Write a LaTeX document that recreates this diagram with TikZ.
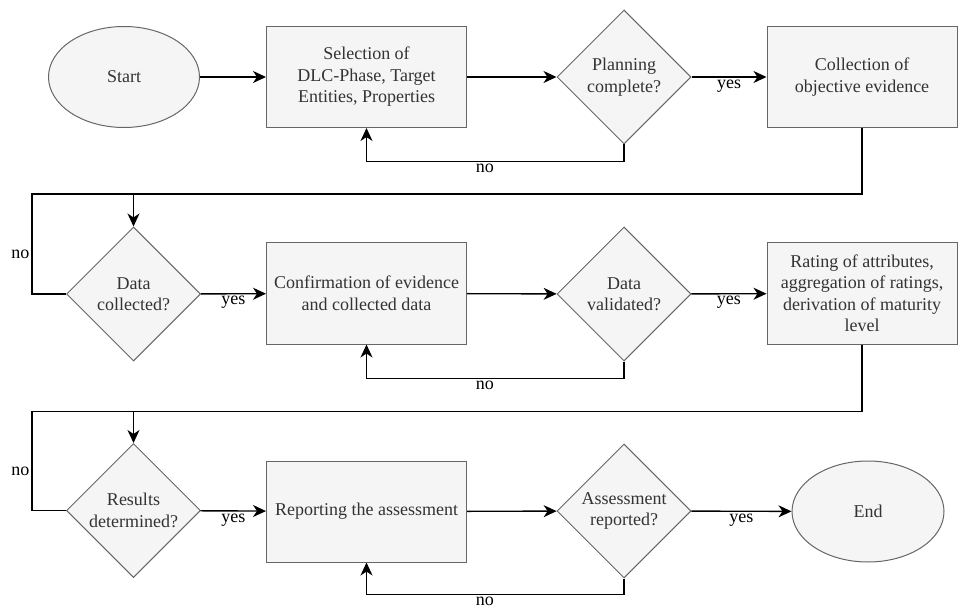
\documentclass[tikz,border=0pt]{standalone}
\usepackage{fontspec}
\setmainfont{Liberation Serif}[Ligatures=TeX]
\usetikzlibrary{arrows.meta,positioning,shapes.geometric}
\definecolor{flowFill}{HTML}{F5F5F5}
\definecolor{flowEdge}{HTML}{666666}
\definecolor{flowText}{HTML}{333333}
\tikzset{
  flow font/.style={font=\rmfamily\fontsize{18}{21.5}\selectfont},
  flow box/.style={flow font, draw=flowEdge, fill=flowFill, line width=1pt, text=flowText,
    align=center, minimum width=200pt, minimum height=101pt, inner sep=2pt},
  flow term/.style={flow font, ellipse, draw=flowEdge, fill=flowFill, line width=1pt, text=flowText,
    minimum width=151pt, minimum height=101pt, inner sep=0pt},
  flow test/.style={flow font, diamond, draw=flowEdge, fill=flowFill, line width=1pt, text=flowText,
    align=center, minimum width=134pt, minimum height=134pt, inner sep=0pt, aspect=1},
  flow line/.style={draw=black, line width=1.4pt},
  flow arrow/.style={flow line, -{Stealth[length=13pt,width=12pt,inset=4pt]}},
  flow label/.style={flow font, text=black, inner sep=2pt}
}
\begin{document}
\begin{tikzpicture}[x=1pt,y=-1pt]
  \useasboundingbox (0,0) rectangle (958,612);
  % first row
  \node[flow term] (start) at (124,77) {Start};
  \node[flow box] (select) at (366.5,77) {Selection of\\DLC-Phase, Target\\Entities, Properties};
  \node[flow test] (plan) at (624,77) {Planning\\complete?};
  \node[flow box, minimum width=190pt] (collect) at (862,77) {Collection of\\objective evidence};
  % second row
  \node[flow test] (dcol) at (133.5,294) {Data\\collected?};
  \node[flow box] (confirm) at (366.5,293.5) {Confirmation of evidence\\and collected data};
  \node[flow test] (dval) at (624,294) {Data\\validated?};
  \node[flow box, minimum width=190pt] (rate) at (862,293.5) {Rating of attributes,\\aggregation of ratings,\\derivation of maturity\\level};
  % third row
  \node[flow test] (dres) at (133.5,510.5) {Results\\determined?};
  \node[flow box] (report) at (366.5,511.5) {Reporting the assessment};
  \node[flow test] (drep) at (624,511) {Assessment\\reported?};
  \node[flow term, minimum width=152pt] (finish) at (868,511.5) {End};

  \draw[flow arrow] (start) -- (select);
  \draw[flow arrow] (select) -- (plan);
  \draw[flow arrow] (plan) -- node[flow label, below] {yes} (collect);
  \draw[flow arrow] (plan.south) -- ++(0,17) -| node[flow label, pos=0.27, below] {no} (select.south);
  \draw[flow arrow] (collect.south) -- ++(0,66) coordinate (back1) -| (dcol.north);
  \draw[flow line] (dcol.west) -- ++(-34,0) |- node[flow label, pos=0.2, left] {no} (back1 -| dcol.north);

  \draw[flow arrow] (dcol) -- node[flow label, below] {yes} (confirm);
  \draw[flow arrow] (confirm) -- (dval);
  \draw[flow arrow] (dval) -- node[flow label, below] {yes} (rate);
  \draw[flow arrow] (dval.south) -- ++(0,17) -| node[flow label, pos=0.27, below] {no} (confirm.south);
  \draw[flow arrow] (rate.south) -- ++(0,67) coordinate (back2) -| (dres.north);
  \draw[flow line] (dres.west) -- ++(-34,0) |- node[flow label, pos=0.2, left] {no} (back2 -| dres.north);

  \draw[flow arrow] (dres) -- node[flow label, below] {yes} (report);
  \draw[flow arrow] (report) -- (drep);
  \draw[flow arrow] (drep) -- node[flow label, below] {yes} (finish);
  \draw[flow arrow] (drep.south) -- ++(0,16) -| node[flow label, pos=0.27, below] {no} (report.south);
\end{tikzpicture}
\end{document}
